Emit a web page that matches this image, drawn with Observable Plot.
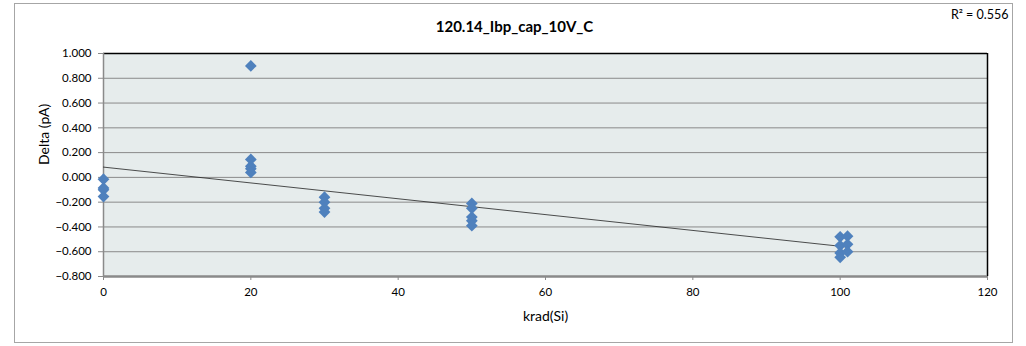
<!DOCTYPE html>
<html>
<head>
<meta charset="utf-8">
<script src="https://cdn.jsdelivr.net/npm/d3@7"></script>
<script src="https://cdn.jsdelivr.net/npm/@observablehq/plot@0.6"></script>
<style>
  html, body { margin: 0; padding: 0; background: #fff; }
</style>
</head>
<body>
<div id="chart"></div>
<script>
const chartTitle = "120.14_Ibp_cap_10V_C";
const rSquaredLabel = "R\u00B2 = 0.556";
const xLabel = "krad(Si)";
const yLabel = "Delta (pA)";

const doseX = [0, 0, 0, 0,
               20, 20, 20, 20, 20,
               30, 30, 30, 30,
               50, 50, 50, 50, 50,
               100, 100, 100, 100,
               101, 101, 101];
const deltaY = [-0.015, -0.085, -0.10, -0.155,
                0.90, 0.145, 0.09, 0.07, 0.04,
                -0.16, -0.20, -0.25, -0.28,
                -0.21, -0.25, -0.32, -0.35, -0.39,
                -0.48, -0.55, -0.61, -0.645,
                -0.475, -0.54, -0.60];

const xTicks = [0, 20, 40, 60, 80, 100, 120];
const yTicks = [-0.8, -0.6, -0.4, -0.2, 0, 0.2, 0.4, 0.6, 0.8, 1.0];

const points = doseX.map((x, i) => ({x, y: deltaY[i]}));

const plot = Plot.plot({
  width: 1026,
  height: 346,
  marginLeft: 103,
  marginRight: 39,
  marginTop: 53,
  marginBottom: 70,
  style: {fontFamily: "Lato, 'Open Sans', sans-serif", fontSize: "11.5px", color: "#000", background: "transparent"},
  x: {domain: [0, 120]},
  y: {domain: [-0.8, 1.0]},
  marks: [
    Plot.frame({fill: "#E6ECEC", stroke: null}),
    Plot.gridY(yTicks, {stroke: "#8a8a8a", strokeOpacity: 1, strokeWidth: 1}),
    Plot.ruleY([1.0], {stroke: "#000", strokeWidth: 1.5}),
    Plot.ruleX([120], {stroke: "#000", strokeWidth: 1.5}),
    Plot.ruleX([0], {stroke: "#8a8a8a", strokeWidth: 1.5}),
    Plot.ruleY([-0.8], {stroke: "#8a8a8a", strokeWidth: 2.5}),
    Plot.axisY(yTicks, {tickFormat: d3.format(".3f"), tickSize: 5, tickPadding: 7, stroke: "#8a8a8a", label: null}),
    Plot.axisX(xTicks, {tickSize: 4, tickPadding: 7, stroke: "#8a8a8a", label: null}),
    Plot.linearRegressionY(points, {x: "x", y: "y", ci: 0, stroke: "#222", strokeWidth: 0.8}),
    Plot.dot(points, {x: "x", y: "y", symbol: "diamond2", r: 5.3, fill: "#4F81BD", stroke: null}),
    Plot.text([xLabel], {frameAnchor: "bottom", dy: 40, fontSize: 14, lineAnchor: "middle"}),
    Plot.text([yLabel], {frameAnchor: "left", dx: -59, rotate: -90, fontSize: 14, lineAnchor: "middle"}),
    Plot.text([chartTitle], {frameAnchor: "top", dx: -31, dy: -26, fontSize: 15, fontWeight: "bold", lineAnchor: "middle"}),
    Plot.text([rSquaredLabel], {frameAnchor: "top-right", dx: 21, dy: -39, fontSize: 12.5, textAnchor: "end", lineAnchor: "middle"})
  ]
});

d3.select(plot).insert("rect", ":first-child")
  .attr("x", 14.5).attr("y", 3.5)
  .attr("width", 998).attr("height", 339)
  .attr("fill", "#fff").attr("stroke", "#a6a6a6").attr("stroke-width", 1);

document.getElementById("chart").appendChild(plot);
</script>
</body>
</html>
